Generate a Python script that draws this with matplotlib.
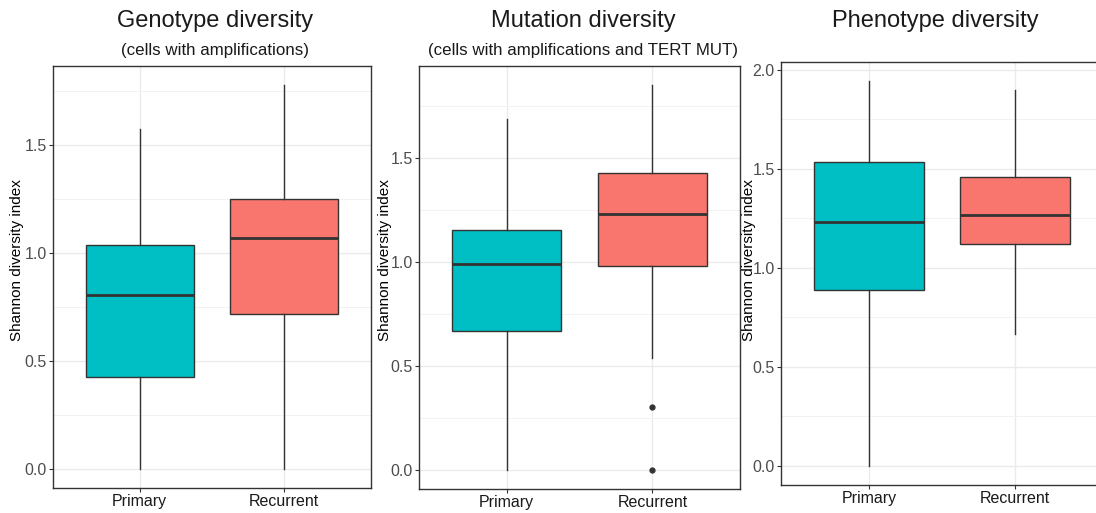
import matplotlib
matplotlib.use("Agg")
import matplotlib.pyplot as plt
from matplotlib.ticker import MultipleLocator, FormatStrFormatter

plt.rcParams["font.family"] = ["Liberation Sans", "DejaVu Sans"]

categories = ["Primary", "Recurrent"]
colors = ["#00BFC4", "#F8766D"]

titles = ["Genotype diversity", "Mutation diversity", "Phenotype diversity"]
subtitles = ["(cells with amplifications)", "(cells with amplifications and TERT MUT)", ""]
ylabel = "Shannon diversity index"

# five-number summaries per panel: [Primary, Recurrent]
geno_low = [0.0, 0.0]
geno_q1 = [0.428, 0.718]
geno_med = [0.806, 1.072]
geno_q3 = [1.039, 1.251]
geno_high = [1.574, 1.781]
geno_out = [[], []]

mut_low = [0.0, 0.539]
mut_q1 = [0.669, 0.980]
mut_med = [0.988, 1.230]
mut_q3 = [1.153, 1.427]
mut_high = [1.686, 1.849]
mut_out = [[], [0.301, 0.0]]

pheno_low = [0.0, 0.665]
pheno_q1 = [0.890, 1.123]
pheno_med = [1.234, 1.269]
pheno_q3 = [1.535, 1.461]
pheno_high = [1.943, 1.897]
pheno_out = [[], []]

panels = [
    (geno_low, geno_q1, geno_med, geno_q3, geno_high, geno_out),
    (mut_low, mut_q1, mut_med, mut_q3, mut_high, mut_out),
    (pheno_low, pheno_q1, pheno_med, pheno_q3, pheno_high, pheno_out),
]
ylims = [(-0.088, 1.867), (-0.091, 1.940), (-0.096, 2.040)]

W, H = 1096, 513
fig = plt.figure(figsize=(W / 100, H / 100), dpi=100)
fig.patch.set_facecolor("white")

# pixel boxes: left, right, top, bottom
boxes = [(53, 371, 66, 488), (419, 740, 66, 489), (781, 1103, 62, 485)]
title_x = [215, 583, 935]
ylab_x = [17, 385, 749]

for i, (ax_box, data) in enumerate(zip(boxes, panels)):
    l, r, t, b = ax_box
    ax = fig.add_axes([l / W, 1 - b / H, (r - l) / W, (b - t) / H])
    low, q1, med, q3, high, out = data
    stats = []
    for k in range(2):
        stats.append(dict(whislo=low[k], q1=q1[k], med=med[k], q3=q3[k],
                          whishi=high[k], fliers=out[k], label=categories[k]))
    bp = ax.bxp(stats, positions=[1, 2], widths=0.75, patch_artist=True,
                showfliers=True, zorder=3,
                boxprops=dict(edgecolor="#333333", linewidth=1.0),
                medianprops=dict(color="#333333", linewidth=2.0),
                whiskerprops=dict(color="#333333", linewidth=1.0),
                capprops=dict(linewidth=0),
                flierprops=dict(marker="o", markerfacecolor="#333333",
                                markeredgecolor="#333333", markersize=3.5))
    for patch, c in zip(bp["boxes"], colors):
        patch.set_facecolor(c)
    ax.set_xlim(0.4, 2.6)
    ax.set_ylim(*ylims[i])
    ax.yaxis.set_major_locator(MultipleLocator(0.5))
    ax.yaxis.set_minor_locator(MultipleLocator(0.25))
    ax.yaxis.set_major_formatter(FormatStrFormatter("%.1f"))
    ax.grid(True, which="major", color="#EBEBEB", linewidth=1.0, zorder=0)
    ax.grid(True, which="minor", axis="y", color="#F2F2F2", linewidth=0.7, zorder=0)
    ax.set_axisbelow(True)
    ax.tick_params(axis="both", which="major", direction="out", length=3,
                   color="#333333", labelcolor="#4D4D4D", labelsize=11.5, pad=1.5)
    ax.tick_params(axis="y", which="minor", length=0)
    ax.tick_params(axis="x", labelcolor="#1A1A1A", labelsize=11.5)
    for sp in ax.spines.values():
        sp.set_color("#333333")
        sp.set_linewidth(1.0)
    fig.text(ylab_x[i] / W, 1 - 260 / H, ylabel, rotation=90,
             ha="center", va="center", fontsize=11, color="black")
    fig.text(title_x[i] / W, 1 - 21 / H, titles[i], ha="center", va="center",
             fontsize=17, color="#1A1A1A")
    if subtitles[i]:
        fig.text(title_x[i] / W, 1 - 50 / H, subtitles[i], ha="center", va="center",
                 fontsize=12.2, color="#1A1A1A")

fig.savefig("out.png", dpi=100)
